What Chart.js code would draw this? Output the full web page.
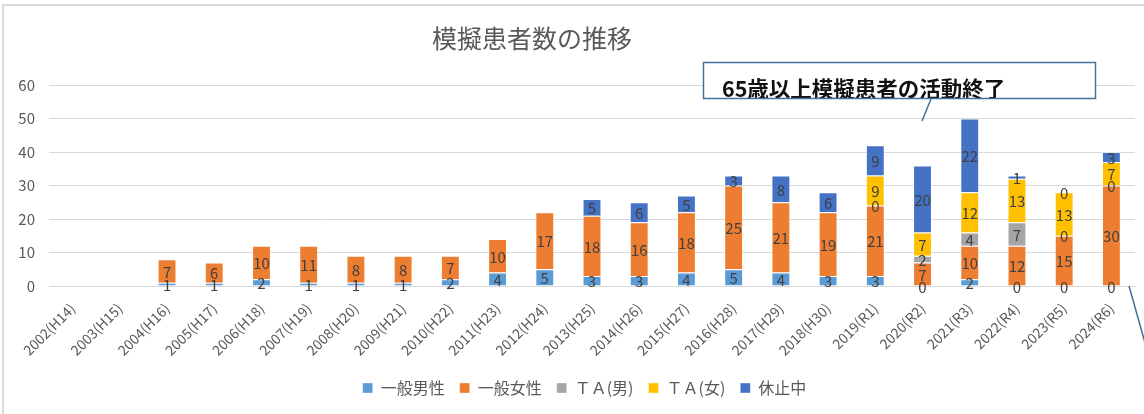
<!DOCTYPE html>
<html>
<head>
<meta charset="utf-8">
<script src="https://cdn.jsdelivr.net/npm/chart.js@4/dist/chart.umd.min.js"></script>
<style>
  html, body { margin: 0; padding: 0; background: #fff; }
  #wrap { width: 1144px; height: 414px; }
</style>
</head>
<body>
<div id="wrap"><canvas id="chart"></canvas></div>
<script>
// categories and series
const years = [
  '2002(H14)', '2003(H15)', '2004(H16)', '2005(H17)', '2006(H18)', '2007(H19)',
  '2008(H20)', '2009(H21)', '2010(H22)', '2011(H23)', '2012(H24)', '2013(H25)',
  '2014(H26)', '2015(H27)', '2016(H28)', '2017(H29)', '2018(H30)', '2019(R1)',
  '2020(R2)', '2021(R3)', '2022(R4)', '2023(R5)', '2024(R6)'
];
const generalMale   = [null, null, 1, 1, 2, 1, 1, 1, 2, 4, 5, 3, 3, 4, 5, 4, 3, 3, 0, 2, 0, 0, 0];
const generalFemale = [null, null, 7, 6, 10, 11, 8, 8, 7, 10, 17, 18, 16, 18, 25, 21, 19, 21, 7, 10, 12, 15, 30];
const taMale        = [null, null, null, null, null, null, null, null, null, null, null, null, null, null, null, null, null, 0, 2, 4, 7, 0, 0];
const taFemale      = [null, null, null, null, null, null, null, null, null, null, null, null, null, null, null, null, null, 9, 7, 12, 13, 13, 7];
const onBreak       = [null, null, null, null, null, null, null, null, null, null, null, 5, 6, 5, 3, 8, 6, 9, 20, 22, 1, 0, 3];
const yMax = 60;
const yStep = 10;

const FONT = "'Noto Sans CJK JP', 'Noto Sans', sans-serif";
const TEXT = '#595959';
const GRID = '#d9d9d9';

// value labels in the middle of each segment
const segmentLabels = {
  id: 'segmentLabels',
  afterDatasetsDraw(chart) {
    const ctx = chart.ctx;
    ctx.save();
    ctx.font = '15px ' + FONT;
    ctx.fillStyle = '#404040';
    ctx.textAlign = 'center';
    ctx.textBaseline = 'middle';
    chart.data.datasets.forEach((ds, i) => {
      const meta = chart.getDatasetMeta(i);
      meta.data.forEach((bar, j) => {
        const v = ds.data[j];
        if (v === null || v === undefined) return;
        const y = (bar.y + bar.base) / 2;
        ctx.fillText(String(v), bar.x, y + 1);
      });
    });
    ctx.restore();
  }
};

// frame, title, callout box and its leader lines
const decorations = {
  id: 'decorations',
  afterLayout(chart) {
    // legend sits a little right of the canvas centre in the original
    chart.legend.left += 34;
  },
  beforeDraw(chart) {
    const ctx = chart.ctx;
    ctx.save();
    ctx.fillStyle = '#fff';
    ctx.fillRect(0, 0, chart.width, chart.height);
    ctx.strokeStyle = GRID;
    ctx.lineWidth = 2;
    ctx.beginPath();
    ctx.moveTo(3, chart.height);
    ctx.lineTo(3, 5);
    ctx.lineTo(chart.width, 5);
    ctx.stroke();
    ctx.fillStyle = TEXT;
    ctx.font = '25px ' + FONT;
    ctx.textAlign = 'center';
    ctx.textBaseline = 'middle';
    ctx.fillText('模擬患者数の推移', 532, 38);
    ctx.restore();
  },
  afterDraw(chart) {
    const ctx = chart.ctx;
    ctx.save();
    ctx.fillStyle = '#fff';
    ctx.fillRect(703, 62, 392, 36);
    ctx.save();
    ctx.beginPath();
    ctx.rect(703, 62, 392, 36);
    ctx.clip();
    ctx.fillStyle = '#111';
    ctx.font = 'bold 21.5px ' + FONT;
    ctx.textAlign = 'left';
    ctx.textBaseline = 'middle';
    ctx.fillText('65歳以上模擬患者の活動終了', 722, 89);
    ctx.restore();
    ctx.strokeStyle = '#41719c';
    ctx.lineWidth = 1.5;
    ctx.strokeRect(703.5, 62.5, 392, 36);
    ctx.beginPath();
    ctx.moveTo(931, 99);
    ctx.lineTo(922, 121);
    ctx.stroke();
    ctx.beginPath();
    ctx.moveTo(1129, 286);
    ctx.lineTo(1147, 350);
    ctx.stroke();
    ctx.restore();
  }
};

function series(label, data, color) {
  return {
    label,
    data,
    backgroundColor: color,
    borderColor: 'rgba(255,255,255,0.35)',
    borderWidth: 1,
    categoryPercentage: 1,
    barPercentage: 0.4,
  };
}

new Chart(document.getElementById('chart'), {
  type: 'bar',
  data: {
    labels: years,
    datasets: [
      series('一般男性', generalMale, '#5b9bd5'),
      series('一般女性', generalFemale, '#ed7d31'),
      series('ＴＡ(男)', taMale, '#a5a5a5'),
      series('ＴＡ(女)', taFemale, '#ffc000'),
      series('休止中', onBreak, '#4472c4'),
    ],
  },
  options: {
    responsive: true,
    maintainAspectRatio: false,
    animation: false,
    layout: { padding: { left: 0, right: 9, top: 85, bottom: 8 } },
    scales: {
      x: {
        stacked: true,
        grid: { display: false, drawTicks: false },
        border: { display: true, color: GRID, width: 1 },
        ticks: {
          color: TEXT,
          font: { family: FONT, size: 14 },
          minRotation: 45,
          maxRotation: 45,
          padding: 14,
          autoSkip: false,
        },
        afterFit(scale) { scale.height = 79; },
      },
      y: {
        stacked: true,
        min: 0,
        max: yMax,
        grid: { color: GRID, drawTicks: false },
        border: { display: false },
        ticks: {
          stepSize: yStep,
          color: TEXT,
          font: { family: FONT, size: 15 },
          padding: 14,
        },
        afterFit(scale) { scale.width = 49; },
      },
    },
    plugins: {
      title: { display: false },
      legend: {
        position: 'bottom',
        labels: {
          color: TEXT,
          font: { family: FONT, size: 16 },
          boxWidth: 10,
          boxHeight: 10,
          padding: 15,
        },
      },
      tooltip: { enabled: false },
    },
  },
  plugins: [decorations, segmentLabels],
});
</script>
</body>
</html>
